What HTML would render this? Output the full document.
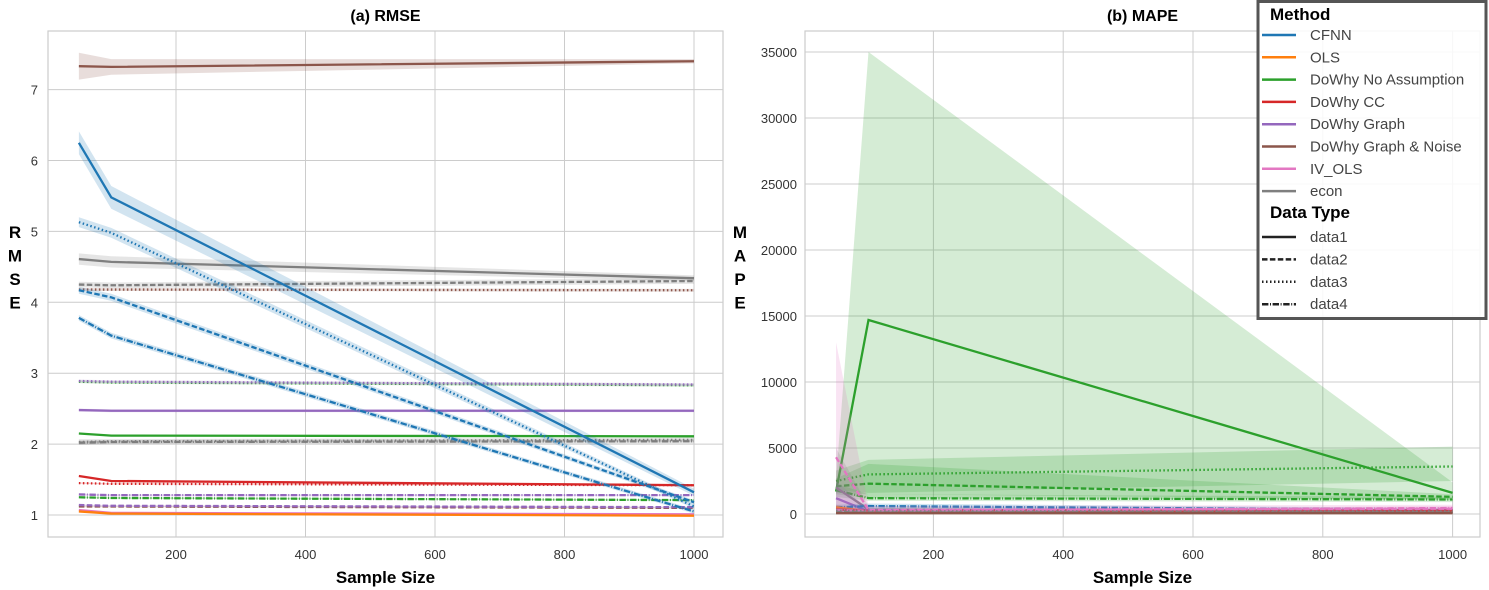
<!DOCTYPE html>
<html><head><meta charset="utf-8">
<style>
html,body{margin:0;padding:0;background:#fff;}
svg{display:block;font-family:"Liberation Sans",Arial,sans-serif;}
</style></head>
<body>
<svg id="chart" width="1489" height="590" viewBox="0 0 1489 590" xmlns="http://www.w3.org/2000/svg">
  <g id="left"></g>
  <g id="right"></g>
  <g id="legend"></g>
</svg>
<script>
// ---------- data ----------
const sampleSizes = [50, 100, 1000];
const xTicks = [200, 400, 600, 800, 1000];
const rmseTicks = [1, 2, 3, 4, 5, 6, 7];
const mapeTicks = [0, 5000, 10000, 15000, 20000, 25000, 30000, 35000];
const methods = ["CFNN","OLS","DoWhy No Assumption","DoWhy CC","DoWhy Graph","DoWhy Graph & Noise","IV_OLS","econ"];
const dataTypes = ["data1","data2","data3","data4"];

// RMSE series: [mean at 50,100,1000], band half-widths
const rmseGraphNoise1 = [7.33, 7.32, 7.40];   const rmseGraphNoise1Err = [0.19, 0.11, 0.03];
const rmseCfnn1 = [6.25, 5.48, 1.32];         const rmseCfnn1Err = [0.16, 0.16, 0.05];
const rmseCfnn3 = [5.13, 4.98, 1.12];         const rmseCfnn3Err = [0.07, 0.07, 0.03];
const rmseCfnn2 = [4.17, 4.07, 1.18];         const rmseCfnn2Err = [0.05, 0.05, 0.03];
const rmseCfnn4 = [3.78, 3.53, 1.05];         const rmseCfnn4Err = [0.04, 0.04, 0.03];
const rmseEcon1 = [4.61, 4.57, 4.34];         const rmseEcon1Err = [0.08, 0.08, 0.04];
const rmseEcon2 = [4.25, 4.24, 4.30];         const rmseEcon2Err = [0.04, 0.04, 0.04];
const rmseGraphNoise3 = [4.18, 4.18, 4.17];   const rmseGraphNoise3Err = [0.02, 0.02, 0.02];
const rmseNoAssump3 = [2.88, 2.87, 2.83];     const rmseNoAssump3Err = [0.02, 0.02, 0.02];
const rmseGraph3 = [2.89, 2.88, 2.84];        const rmseGraph3Err = [0.02, 0.02, 0.02];
const rmseGraph1 = [2.48, 2.47, 2.47];        const rmseGraph1Err = [0.02, 0.02, 0.02];
const rmseNoAssump1 = [2.15, 2.12, 2.11];     const rmseNoAssump1Err = [0.01, 0.01, 0.01];
const rmseEcon3 = [2.03, 2.04, 2.06];         const rmseEcon3Err = [0.04, 0.03, 0.03];
const rmseEcon4 = [2.02, 2.03, 2.04];         const rmseEcon4Err = [0.03, 0.03, 0.03];
const rmseCc1 = [1.55, 1.48, 1.42];           const rmseCc1Err = [0.01, 0.01, 0.01];
const rmseCc3 = [1.45, 1.44, 1.42];           const rmseCc3Err = [0.01, 0.01, 0.01];
const rmseGraph4 = [1.29, 1.28, 1.28];        const rmseGraph4Err = [0.01, 0.01, 0.01];
const rmseNoAssump4 = [1.25, 1.24, 1.21];     const rmseNoAssump4Err = [0.01, 0.01, 0.01];
const rmseGraph2 = [1.14, 1.13, 1.11];        const rmseGraph2Err = [0.01, 0.01, 0.01];
const rmseGraphNoise2 = [1.12, 1.12, 1.10];   const rmseGraphNoise2Err = [0.01, 0.01, 0.01];
const rmseOls1 = [1.05, 1.02, 0.99];          const rmseOls1Err = [0.01, 0.01, 0.01];
const rmseIv1 = [1.07, 1.03, 1.01];           const rmseIv1Err = [0.01, 0.01, 0.01];

// MAPE series: mean, lower band, upper band
const mapeNoAssump1 = [1700, 14700, 1600];  const mapeNoAssump1Lo = [1500, 1200, 1100]; const mapeNoAssump1Hi = [2600, 35000, 2400];
const mapeNoAssump3 = [2500, 3000, 3600];   const mapeNoAssump3Lo = [1800, 1600, 2500]; const mapeNoAssump3Hi = [3300, 4100, 5100];
const mapeNoAssump2 = [2100, 2300, 1300];   const mapeNoAssump2Lo = [1600, 1500, 1100]; const mapeNoAssump2Hi = [2700, 3800, 1500];
const mapeNoAssump4 = [1800, 1200, 1100];   const mapeNoAssump4Lo = [1300, 1000, 900];  const mapeNoAssump4Hi = [2300, 1500, 1300];
const mapeCfnn4 = [500, 600, 300];          const mapeCfnn4Lo = [300, 450, 200];       const mapeCfnn4Hi = [700, 800, 450];
const mapeIv2 = [4300, 300, 400];           const mapeIv2Lo = [200, 150, 250];         const mapeIv2Hi = [13000, 600, 700];
const mapeGraph1 = [1200, 200, 200];        const mapeGraph1Lo = [400, 100, 100];      const mapeGraph1Hi = [2500, 350, 350];
const mapeEcon1 = [2000, 350, 150];         const mapeEcon1Lo = [300, 150, 80];        const mapeEcon1Hi = [5000, 600, 250];
const mapeOls1 = [500, 200, 200];           const mapeOls1Lo = [300, 100, 100];        const mapeOls1Hi = [700, 300, 300];
const mapeIv4 = [300, 250, 450];            const mapeIv4Lo = [150, 150, 300];         const mapeIv4Hi = [500, 350, 600];
const mapeEcon2 = [150, 120, 120];          const mapeEcon2Lo = [80, 80, 80];          const mapeEcon2Hi = [250, 200, 200];
const mapeEcon3 = [250, 200, 200];          const mapeEcon3Lo = [100, 100, 100];       const mapeEcon3Hi = [500, 300, 300];
const mapeEcon4 = [100, 100, 100];          const mapeEcon4Lo = [50, 50, 50];          const mapeEcon4Hi = [200, 150, 150];
const mapeGraphNoise1 = [60, 60, 60];       const mapeGraphNoise1Lo = [30, 30, 30];    const mapeGraphNoise1Hi = [100, 100, 100];
const mapeCc1 = [350, 250, 250];            const mapeCc1Lo = [200, 150, 150];         const mapeCc1Hi = [500, 350, 350];
const mapeCfnn1 = [300, 300, 150];          const mapeCfnn1Lo = [200, 200, 100];       const mapeCfnn1Hi = [450, 400, 250];
const mapeGraph2 = [400, 200, 300];         const mapeGraph2Lo = [200, 100, 200];      const mapeGraph2Hi = [700, 300, 400];

const colors = {CFNN:"#1f77b4",OLS:"#ff7f0e",NA:"#2ca02c",CC:"#d62728",G:"#9467bd",GN:"#8c564b",IV:"#e377c2",E:"#7f7f7f"};
const dashes = {data1:"", data2:"5.5,2.4", data3:"1.5,2.5", data4:"6.4,1.6,1,1.6"};

// ---------- helpers ----------
const NS = "http://www.w3.org/2000/svg";
function mk(tag, attrs, parent){ const e=document.createElementNS(NS,tag); for(const k in attrs) e.setAttribute(k,attrs[k]); parent.appendChild(e); return e; }

function panel(g, box, xScale, yScale, yTicks, title, yLetters, lettersX, tickRight){
  const r = mk("rect",{x:box.l,y:box.t,width:box.r-box.l,height:box.b-box.t,fill:"#fff",stroke:"#ccc","stroke-width":1.2},g);
  
  
  xTicks.forEach(v=>{
    const x=xScale(v);
    const gl=mk("line",{x1:x,x2:x,y1:box.t,y2:box.b,stroke:"#ccc","stroke-width":1},g);
    
    
    const t=mk("text",{x:x,y:box.b+22,"font-size":13,fill:"#333","text-anchor":"middle"},g);
    t.textContent=v;
    
    
  });
  yTicks.forEach(v=>{
    const y=yScale(v);
    const gl=mk("line",{x1:box.l,x2:box.r,y1:y,y2:y,stroke:"#ccc","stroke-width":1},g);
    
    
    const t=mk("text",{x:tickRight,y:y+5,"font-size":13,fill:"#333","text-anchor":"end"},g);
    t.textContent=v;
    
    
  });
  const tt=mk("text",{x:(box.l+box.r)/2,y:21,"font-size":16,"font-weight":"bold",fill:"#000","text-anchor":"middle"},g);
  tt.textContent=title;
  
  
  const xl=mk("text",{x:(box.l+box.r)/2,y:583,"font-size":17,"font-weight":"bold",fill:"#000","text-anchor":"middle"},g);
  xl.textContent="Sample Size";
  
  
  const yl=mk("text",{x:lettersX,"font-size":17,"font-weight":"bold",fill:"#000","text-anchor":"middle"},g);
  
  
  yLetters.split("").forEach((c,i)=>{ const ts=mk("tspan",{x:lettersX,y:238+i*23.5},yl); ts.textContent=c; });
}

function drawSeries(g, xScale, yScale, mean, lo, hi, color, dt, name){
  const top = sampleSizes.map((s,i)=>xScale(s)+","+yScale(hi[i]));
  const bot = sampleSizes.map((s,i)=>xScale(s)+","+yScale(lo[i])).reverse();
  const band = mk("polygon",{points:top.concat(bot).join(" "),fill:color,"fill-opacity":0.2,stroke:"none"},g);
  
  
  const pts = sampleSizes.map((s,i)=>xScale(s)+","+yScale(mean[i])).join(" ");
  const ln = mk("polyline",{points:pts,fill:"none",stroke:color,"stroke-width":2.3,"stroke-dasharray":dashes[dt]},g);
  
  
}

// ---------- left panel ----------
const L = {l:48,r:723,t:31,b:537};
const lx = v => 176 + (v-200)*(694-176)/800;
const ly = v => 515 - (v-1)*70.9;
const gL = document.getElementById("left");
panel(gL, L, lx, ly, rmseTicks, "(a) RMSE", "RMSE", 15, 38);
function rm(m,e,c,dt,n){ drawSeries(gL,lx,ly,m,m.map((v,i)=>v-e[i]),m.map((v,i)=>v+e[i]),c,dt,n); }
rm(rmseIv1,rmseIv1Err,colors.IV,"data1","iv-ols-data1");
rm(rmseOls1,rmseOls1Err,colors.OLS,"data1","ols-data1");
rm(rmseGraphNoise2,rmseGraphNoise2Err,colors.GN,"data2","graph-noise-data2");
rm(rmseGraph2,rmseGraph2Err,colors.G,"data2","graph-data2");
rm(rmseNoAssump4,rmseNoAssump4Err,colors.NA,"data4","no-assumption-data4");
rm(rmseGraph4,rmseGraph4Err,colors.G,"data4","graph-data4");
rm(rmseCc3,rmseCc3Err,colors.CC,"data3","cc-data3");
rm(rmseCc1,rmseCc1Err,colors.CC,"data1","cc-data1");
rm(rmseEcon4,rmseEcon4Err,colors.E,"data4","econ-data4");
rm(rmseEcon3,rmseEcon3Err,colors.E,"data3","econ-data3");
rm(rmseNoAssump1,rmseNoAssump1Err,colors.NA,"data1","no-assumption-data1");
rm(rmseGraph1,rmseGraph1Err,colors.G,"data1","graph-data1");
rm(rmseNoAssump3,rmseNoAssump3Err,colors.NA,"data3","no-assumption-data3");
rm(rmseGraph3,rmseGraph3Err,colors.G,"data3","graph-data3");
rm(rmseGraphNoise3,rmseGraphNoise3Err,colors.GN,"data3","graph-noise-data3");
rm(rmseEcon2,rmseEcon2Err,colors.E,"data2","econ-data2");
rm(rmseEcon1,rmseEcon1Err,colors.E,"data1","econ-data1");
rm(rmseCfnn4,rmseCfnn4Err,colors.CFNN,"data4","cfnn-data4");
rm(rmseCfnn2,rmseCfnn2Err,colors.CFNN,"data2","cfnn-data2");
rm(rmseCfnn3,rmseCfnn3Err,colors.CFNN,"data3","cfnn-data3");
rm(rmseCfnn1,rmseCfnn1Err,colors.CFNN,"data1","cfnn-data1");
rm(rmseGraphNoise1,rmseGraphNoise1Err,colors.GN,"data1","graph-noise-data1");

// ---------- right panel ----------
const R = {l:805,r:1480,t:31,b:537};
const rx = v => 933.4 + (v-200)*(1452.6-933.4)/800;
const ry = v => 514 - v*66/5000;
const gR = document.getElementById("right");
panel(gR, R, rx, ry, mapeTicks, "(b) MAPE", "MAPE", 740, 797);
function mp(m,lo,hi,c,dt,n){ drawSeries(gR,rx,ry,m,lo,hi,c,dt,n); }
mp(mapeNoAssump1,mapeNoAssump1Lo,mapeNoAssump1Hi,colors.NA,"data1","no-assumption-data1");
mp(mapeNoAssump3,mapeNoAssump3Lo,mapeNoAssump3Hi,colors.NA,"data3","no-assumption-data3");
mp(mapeNoAssump2,mapeNoAssump2Lo,mapeNoAssump2Hi,colors.NA,"data2","no-assumption-data2");
mp(mapeNoAssump4,mapeNoAssump4Lo,mapeNoAssump4Hi,colors.NA,"data4","no-assumption-data4");
mp(mapeEcon1,mapeEcon1Lo,mapeEcon1Hi,colors.E,"data1","econ-data1");
mp(mapeGraph1,mapeGraph1Lo,mapeGraph1Hi,colors.G,"data1","graph-data1");
mp(mapeGraph2,mapeGraph2Lo,mapeGraph2Hi,colors.G,"data2","graph-data2");
mp(mapeCfnn4,mapeCfnn4Lo,mapeCfnn4Hi,colors.CFNN,"data4","cfnn-data4");
mp(mapeCfnn1,mapeCfnn1Lo,mapeCfnn1Hi,colors.CFNN,"data1","cfnn-data1");
mp(mapeOls1,mapeOls1Lo,mapeOls1Hi,colors.OLS,"data1","ols-data1");
mp(mapeCc1,mapeCc1Lo,mapeCc1Hi,colors.CC,"data1","cc-data1");
mp(mapeIv4,mapeIv4Lo,mapeIv4Hi,colors.IV,"data4","iv-ols-data4");
mp(mapeIv2,mapeIv2Lo,mapeIv2Hi,colors.IV,"data2","iv-ols-data2");
mp(mapeEcon3,mapeEcon3Lo,mapeEcon3Hi,colors.E,"data3","econ-data3");
mp(mapeEcon2,mapeEcon2Lo,mapeEcon2Hi,colors.E,"data2","econ-data2");
mp(mapeEcon4,mapeEcon4Lo,mapeEcon4Hi,colors.E,"data4","econ-data4");
mp(mapeGraphNoise1,mapeGraphNoise1Lo,mapeGraphNoise1Hi,colors.GN,"data1","graph-noise-data1");

// ---------- legend ----------
const gLeg = document.getElementById("legend");
const lb = mk("rect",{x:1258,y:1.5,width:228,height:317,fill:"#fff","fill-opacity":0.85,stroke:"#555","stroke-width":3},gLeg);


function legTitle(txt,y){
  const t=mk("text",{x:1270,y:y,"font-size":17,"font-weight":"bold",fill:"#000"},gLeg);
  t.textContent=txt;
  
  
}
function legEntry(txt,y,color,dash){
  const l=mk("line",{x1:1262,x2:1296,y1:y,y2:y,stroke:color,"stroke-width":2.5,"stroke-dasharray":dash},gLeg);
  
  
  const t=mk("text",{x:1310,y:y+5,"font-size":15,fill:"#444"},gLeg);
  t.textContent=txt;
  
  
}
legTitle("Method",20);
const methodColors=[colors.CFNN,colors.OLS,colors.NA,colors.CC,colors.G,colors.GN,colors.IV,colors.E];
methods.forEach((m,i)=>legEntry(m,35+i*22.3,methodColors[i],""));
legTitle("Data Type",218);
dataTypes.forEach((d,i)=>legEntry(d,237+i*22.4,"#222",dashes[d]));
</script>
</body></html>
